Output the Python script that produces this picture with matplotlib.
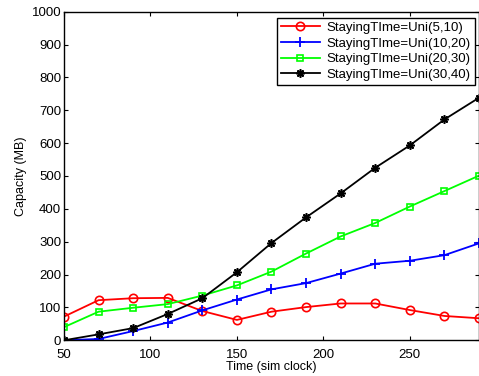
import numpy as np
import matplotlib
matplotlib.use('Agg')
import matplotlib.pyplot as plt

plt.rcParams['font.family'] = ['Liberation Sans', 'DejaVu Sans']

# data
time = [50, 70, 90, 110, 130, 150, 170, 190, 210, 230, 250, 270, 290]
uni_5_10 = [72, 122, 128, 129, 89, 62, 87, 101, 112, 112, 92, 74, 67]
uni_10_20 = [0, 4, 28, 54, 91, 124, 155, 174, 203, 233, 242, 259, 295]
uni_20_30 = [40, 87, 99, 110, 136, 167, 209, 264, 316, 357, 407, 454, 501]
uni_30_40 = [0, 18, 37, 80, 128, 207, 296, 374, 447, 525, 593, 672, 738]
labels = ['StayingTIme=Uni(5,10)', 'StayingTIme=Uni(10,20)',
          'StayingTIme=Uni(20,30)', 'StayingTIme=Uni(30,40)']

fig = plt.figure(figsize=(4.79, 3.76), dpi=100)
ax = fig.add_axes([0.1336, 0.095, 0.8664, 0.874])

ax.plot(time, uni_5_10, color='#ff0000', marker='o', markersize=6,
        markerfacecolor='none', markeredgewidth=1.2, linewidth=1.3, label=labels[0])
ax.plot(time, uni_10_20, color='#0000ff', marker='+', markersize=7,
        markeredgewidth=1.3, linewidth=1.3, label=labels[1])
ax.plot(time, uni_20_30, color='#00ff00', marker='s', markersize=5,
        markerfacecolor='none', markeredgewidth=1.2, linewidth=1.3, label=labels[2])
ax.plot(time, uni_30_40, color='black', marker=(8, 2, 0), markersize=6,
        markeredgewidth=1.2, linewidth=1.3, label=labels[3])

ax.set_xlim(50, 290)
ax.set_ylim(0, 1000)
ax.set_xticks([50, 100, 150, 200, 250])
ax.set_yticks(np.arange(0, 1001, 100))
ax.tick_params(direction='in', top=True, right=True, labelsize=9.5, length=3)
ax.tick_params(axis='x', pad=6)
ax.tick_params(axis='y', pad=2)
for s in ax.spines.values():
    s.set_linewidth(1.0)

ax.set_xlabel('Time (sim clock)', fontsize=9, labelpad=0)
ax.set_ylabel('Capacity (MB)', fontsize=9, labelpad=3)

leg = ax.legend(loc='upper right', bbox_to_anchor=(0.99, 0.981), borderaxespad=0,
                fontsize=9.5, fancybox=False, framealpha=1, edgecolor='black',
                handlelength=3.0, labelspacing=0.25, borderpad=0.3, handletextpad=0.5)
leg.get_frame().set_linewidth(1.0)

plt.savefig('out.png', dpi=100)
